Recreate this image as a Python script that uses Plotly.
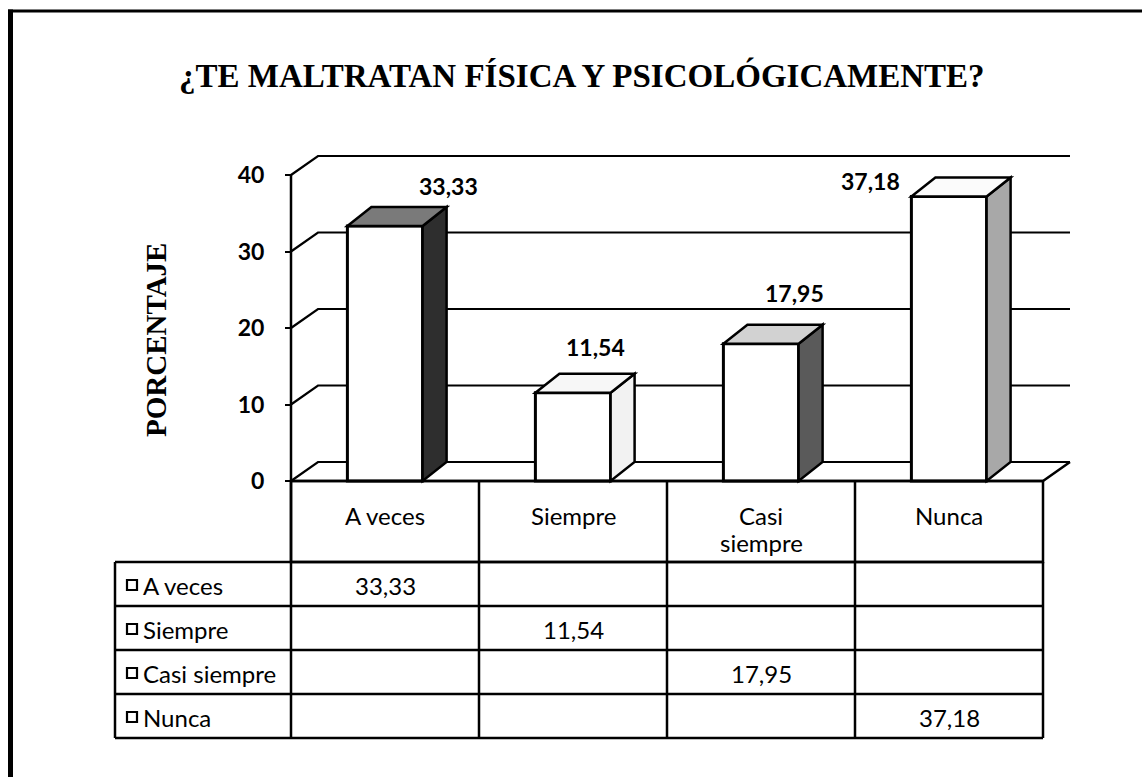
import plotly.graph_objects as go

# ---------------- data ----------------
categories = ["A veces", "Siempre", "Casi siempre", "Nunca"]
values = [33.33, 11.54, 17.95, 37.18]
value_labels = ["33,33", "11,54", "17,95", "37,18"]
y_ticks = [0, 10, 20, 30, 40]
title_text = "¿TE MALTRATAN FÍSICA Y PSICOLÓGICAMENTE?"
y_title = "PORCENTAJE"

# ---------------- styling / layout (not data) ----------------
side_colors = ["#2e2e2e", "#f2f2f2", "#5a5a5a", "#a8a8a8"]
top_colors = ["#7a7a7a", "#f7f7f7", "#d2d2d2", "#fbfbfb"]
label_dx = [0.34, 0.12, 0.18, -0.42]     # label offset (category units)
label_dy = [5.2, 6.0, 6.6, 2.1]          # label offset (value units)

FIG_W, FIG_H = 1142, 777
L, R, T, B = 100, 62, 140, 20
X_FRONT_LEFT, X_FRONT_RIGHT = 291, 1043   # px of category edges -0.5 / 3.5
Y_ZERO, Y_FORTY = 481, 175                # px of value 0 / 40
n = len(categories)
PX_X = (X_FRONT_RIGHT - X_FRONT_LEFT) / n
PX_Y = (Y_ZERO - Y_FORTY) / 40.0

def xd(px):
    return -0.5 + (px - X_FRONT_LEFT) / PX_X

def yd(px):
    return (Y_ZERO - px) / PX_Y

PW, PH = FIG_W - L - R, FIG_H - T - B
def xp(px):
    return (px - L) / PW

def yp(px):
    return (FIG_H - B - px) / PH

x_range = [xd(L), xd(FIG_W - R)]
y_range = [yd(FIG_H - B), yd(T)]

WALL_DX, WALL_DY = 27 / PX_X, 19 / PX_Y
BAR_DX, BAR_DY = 24 / PX_X, 19 / PX_Y
BW = 0.4

TXT = dict(family="Lato", size=24, color="black")

xs = list(range(n))
fig = go.Figure()
fig.add_trace(go.Bar(x=xs, y=values, width=BW,
                     marker=dict(color="white", line=dict(color="black", width=3)),
                     showlegend=False, hoverinfo="skip"))

shapes = []
for v in y_ticks:
    path = (f"M {-0.5},{v} L {-0.5 + WALL_DX},{v + WALL_DY} "
            f"L {n - 0.5 + WALL_DX},{v + WALL_DY}")
    shapes.append(dict(type="path", path=path, xref="x", yref="y", layer="below",
                       line=dict(color="black", width=2.2)))
shapes.append(dict(type="path",
                   path=f"M {-0.5},0 L {n - 0.5},0 L {n - 0.5 + WALL_DX},{WALL_DY}",
                   xref="x", yref="y", layer="below", line=dict(color="black", width=2.5)))
shapes.append(dict(type="line", x0=-0.5, x1=-0.5, y0=yd(738), y1=40, xref="x", yref="y",
                   line=dict(color="black", width=2.5)))

for i, v in enumerate(values):
    xl, xr = i - BW / 2, i + BW / 2
    side = (f"M {xr},0 L {xr},{v} L {xr + BAR_DX},{v + BAR_DY} "
            f"L {xr + BAR_DX},{BAR_DY} Z")
    top = (f"M {xl},{v} L {xr},{v} L {xr + BAR_DX},{v + BAR_DY} "
           f"L {xl + BAR_DX},{v + BAR_DY} Z")
    shapes.append(dict(type="path", path=side, xref="x", yref="y", layer="above",
                       fillcolor=side_colors[i], line=dict(color="black", width=2.5)))
    shapes.append(dict(type="path", path=top, xref="x", yref="y", layer="above",
                       fillcolor=top_colors[i], line=dict(color="black", width=2.5)))

# data table
hdr_top, hdr_bot = Y_ZERO, 562
row_h = 44
tbl_left = 115
row_lines = [hdr_bot + k * row_h for k in range(n + 1)]
lw = 2.5
shapes.append(dict(type="rect", x0=-0.5, x1=n - 0.5, y0=yd(hdr_top), y1=yd(hdr_bot),
                   xref="x", yref="y", line=dict(color="black", width=lw)))
for k in range(1, n):
    shapes.append(dict(type="line", x0=k - 0.5, x1=k - 0.5, y0=yd(hdr_top), y1=yd(row_lines[-1]),
                       xref="x", yref="y", line=dict(color="black", width=lw)))
for yy in row_lines:
    shapes.append(dict(type="line", x0=xd(tbl_left), x1=n - 0.5, y0=yd(yy), y1=yd(yy),
                       xref="x", yref="y", line=dict(color="black", width=lw)))
for xx in [xd(tbl_left), n - 0.5]:
    shapes.append(dict(type="line", x0=xx, x1=xx, y0=yd(hdr_bot), y1=yd(row_lines[-1]),
                       xref="x", yref="y", line=dict(color="black", width=lw)))

annotations = []
for k, cat in enumerate(categories):
    cy = (row_lines[k] + row_lines[k + 1]) / 2
    shapes.append(dict(type="rect", x0=xd(127), x1=xd(137), y0=yd(cy - 4), y1=yd(cy + 6),
                       xref="x", yref="y", line=dict(color="black", width=2.2)))
    annotations.append(dict(x=xd(141), y=yd(cy + 1), xref="x", yref="y", text=cat,
                            showarrow=False, xanchor="left", yanchor="middle", font=TXT))
    annotations.append(dict(x=k, y=yd(cy + 1), xref="x", yref="y", text=value_labels[k],
                            showarrow=False, xanchor="center", yanchor="middle", font=TXT))
# column headers (long names wrap onto two lines)
for k, cat in enumerate(categories):
    lines = cat.split(" ") if len(cat) > 8 else [cat]
    for j, ln in enumerate(lines):
        annotations.append(dict(x=k, y=yd(515 + 27 * j), xref="x", yref="y", text=ln,
                                showarrow=False, xanchor="center", yanchor="middle", font=TXT))
for i, v in enumerate(values):
    annotations.append(dict(x=i + label_dx[i], y=v + label_dy[i], xref="x", yref="y",
                            text=f"<b>{value_labels[i]}</b>", showarrow=False,
                            xanchor="center", yanchor="middle",
                            font=dict(family="Lato", size=23, color="black")))
annotations.append(dict(x=xp(156), y=yp(340), xref="paper", yref="paper",
                        text=f"<b>{y_title}</b>", showarrow=False, textangle=-90,
                        xanchor="center", yanchor="middle",
                        font=dict(family="Liberation Serif", size=29, color="black")))
annotations.append(dict(x=xp(582), y=yp(76), xref="paper", yref="paper",
                        text=f"<b>{title_text}</b>", showarrow=False,
                        xanchor="center", yanchor="middle",
                        font=dict(family="Liberation Serif", size=33, color="black")))

# outer frame (left and top)
shapes.append(dict(type="line", xref="paper", yref="paper", x0=xp(10.5), x1=xp(10.5),
                   y0=yp(9.5), y1=yp(FIG_H), line=dict(color="black", width=5)))
shapes.append(dict(type="line", xref="paper", yref="paper", x0=xp(8), x1=xp(FIG_W),
                   y0=yp(11), y1=yp(11), line=dict(color="black", width=3)))

fig.update_layout(
    width=FIG_W, height=FIG_H,
    margin=dict(l=L, r=R, t=T, b=B, autoexpand=False),
    paper_bgcolor="white", plot_bgcolor="white",
    showlegend=False,
    xaxis=dict(range=x_range, visible=False, fixedrange=True),
    yaxis=dict(range=y_range, tickvals=y_ticks, ticktext=[str(t) for t in y_ticks],
               anchor="free", position=xp(X_FRONT_LEFT), ticks="outside", ticklen=6,
               tickwidth=2, tickcolor="black", ticklabelstandoff=16,
               showgrid=False, zeroline=False, showline=False, fixedrange=True,
               tickfont=dict(family="Lato", size=23, color="black", weight="bold")),
    shapes=shapes, annotations=annotations,
)

fig.write_html("out.html", config={"displayModeBar": False},
               post_script="document.body.style.margin='0';")
